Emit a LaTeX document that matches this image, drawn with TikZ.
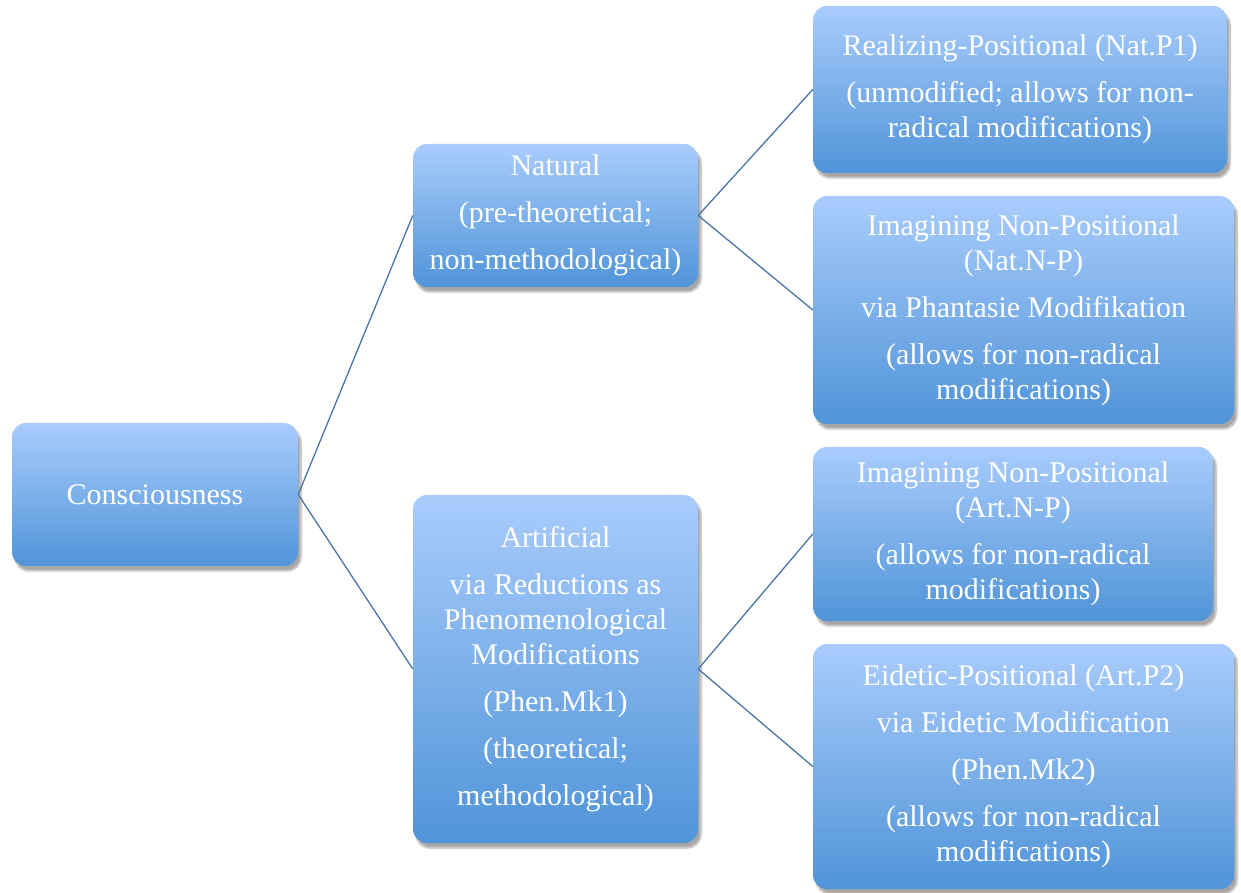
\documentclass[tikz,border=0pt]{standalone}
\usepackage{fontspec}
\setmainfont{Liberation Serif}
\usetikzlibrary{shadows.blur}
\definecolor{boxtop}{HTML}{A9CCFC}
\definecolor{boxbot}{HTML}{5094D8}
\definecolor{linkcol}{HTML}{4A74AA}
\tikzset{
  box/.style={rounded corners=14pt, top color=boxtop, bottom color=boxbot, draw=none,
    text=white, align=center, inner sep=0pt,
    font=\fontsize{30}{35}\selectfont,
    blur shadow={shadow xshift=3pt, shadow yshift=-5pt, shadow blur steps=8, shadow opacity=35}},
  link/.style={draw=linkcol, line width=1.3pt}
}
\newcommand{\pgap}{\\[12pt]}
\begin{document}
\begin{tikzpicture}[x=1pt,y=1pt]
\useasboundingbox (0,0) rectangle (1241,892);
\node[box, minimum width=286pt, minimum height=143pt] (C) at (155,397.5) {Consciousness};
\node[box, minimum width=285pt, minimum height=143pt] (N) at (555.5,676.5)
  {Natural\pgap (pre-theoretical;\pgap non-methodological)};
\node[box, minimum width=285pt, minimum height=348pt] (A) at (555.5,223)
  {Artificial\pgap via Reductions as\\ Phenomenological\\ Modifications\pgap (Phen.Mk1)\pgap (theoretical;\pgap methodological)};
\node[box, minimum width=414pt, minimum height=167pt] (R1) at (1020,802.5)
  {Realizing-Positional (Nat.P1)\pgap (unmodified; allows for non-\\ radical modifications)};
\node[box, minimum width=421pt, minimum height=228pt] (R2) at (1023.5,582)
  {Imagining Non-Positional\\ (Nat.N-P)\pgap via Phantasie Modifikation\pgap (allows for non-radical\\ modifications)};
\node[box, minimum width=400pt, minimum height=174pt] (R3) at (1013,358)
  {Imagining Non-Positional\\ (Art.N-P)\pgap (allows for non-radical\\ modifications)};
\node[box, minimum width=421pt, minimum height=245pt] (R4) at (1023.5,125.5)
  {Eidetic-Positional (Art.P2)\pgap via Eidetic Modification\pgap (Phen.Mk2)\pgap (allows for non-radical\\ modifications)};
\draw[link] (C.east) -- (N.west);
\draw[link] (C.east) -- (A.west);
\draw[link] (N.east) -- (R1.west);
\draw[link] (N.east) -- (R2.west);
\draw[link] (A.east) -- (R3.west);
\draw[link] (A.east) -- (R4.west);
\end{tikzpicture}
\end{document}
